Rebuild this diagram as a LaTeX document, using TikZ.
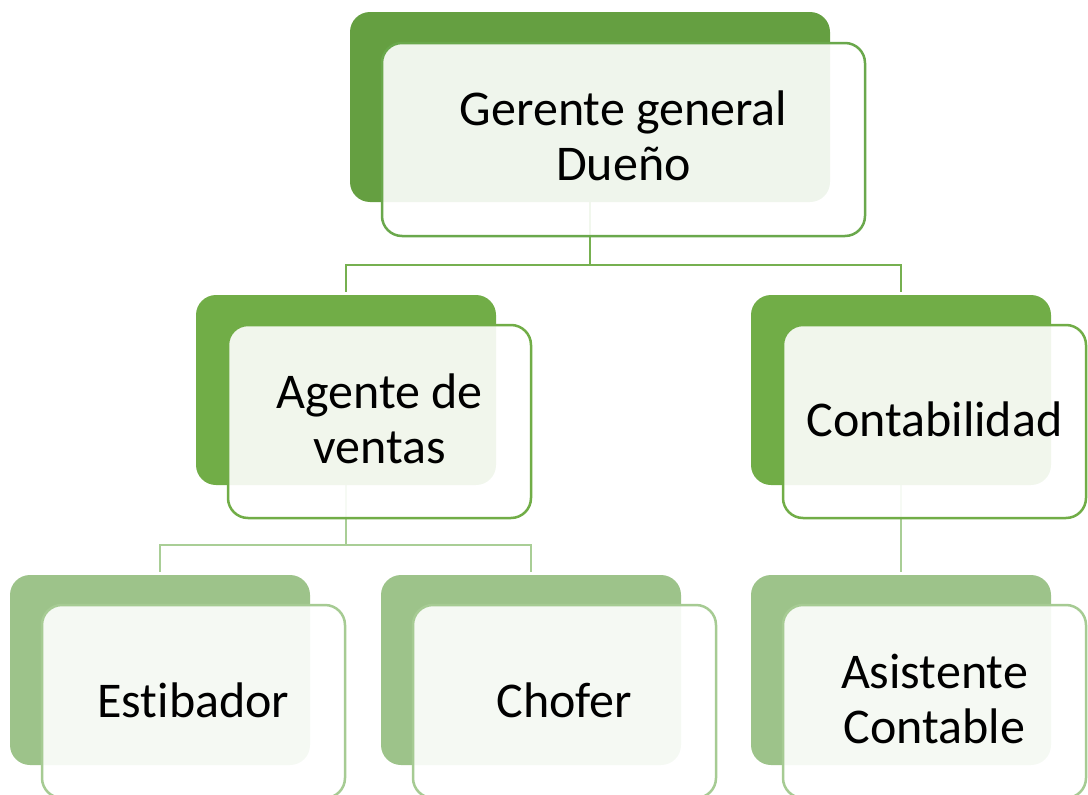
\documentclass[tikz,border=0pt]{standalone}
\usepackage{fontspec}
\setmainfont{Carlito}[Ligatures=NoCommon]
\usetikzlibrary{backgrounds}
\definecolor{gA}{HTML}{659F41}
\definecolor{gAline}{HTML}{6AA84C}
\definecolor{gB}{HTML}{71AD47}
\definecolor{gBline}{HTML}{71AD47}
\definecolor{gC}{HTML}{9DC38A}
\definecolor{gCline}{HTML}{A6CB93}
\definecolor{cA}{HTML}{76B050}
\definecolor{cB}{HTML}{A9CE96}
\tikzset{
  backbox/.style={rectangle, rounded corners=20pt, inner sep=0pt, outer sep=0pt, minimum height=190pt},
  frontbox/.style={rectangle, rounded corners=20pt, inner sep=0pt, outer sep=0pt, minimum height=193pt, line width=2.5pt, fill=white, fill opacity=0.9, draw opacity=1},
  lbl/.style={align=center, font=\fontsize{50}{55}\selectfont, text=black, inner sep=0pt},
  connA/.style={draw=cA, line width=2.5pt},
  connB/.style={draw=cB, line width=2.5pt},
}
\begin{document}
\begin{tikzpicture}[x=1pt,y=-1pt]
\useasboundingbox (0,0) rectangle (1088,795);
\clip (0,0) rectangle (1088,795);
% back boxes
\node[backbox, fill=gA, minimum width=480pt] (gb) at (590,107) {};
\node[backbox, fill=gB, minimum width=300pt] (ab) at (346,390) {};
\node[backbox, fill=gB, minimum width=300pt] (cb) at (901,390) {};
\node[backbox, fill=gC, minimum width=300pt] (eb) at (160,670) {};
\node[backbox, fill=gC, minimum width=300pt] (hb) at (531,670) {};
\node[backbox, fill=gC, minimum width=300pt] (sb) at (901,670) {};
% connectors
\coordinate (bus1) at (590,265);
\coordinate (bus2) at (346,545);
\begin{scope}[on background layer]
\draw[connA] (gb.south) -- (bus1) -| ([yshift=3pt]ab.north);
\draw[connA] (bus1) -| ([yshift=3pt]cb.north);
\draw[connB] (ab.south) -- (bus2) -| ([yshift=3pt]eb.north);
\draw[connB] (bus2) -| ([yshift=3pt]hb.north);
\draw[connB] (cb.south) -- ([yshift=3pt]sb.north);
\end{scope}
% front boxes
\node[frontbox, draw=gAline, minimum width=483pt] (gf) at (623.5,139.5) {};
\node[frontbox, draw=gBline, minimum width=303pt] (af) at (379.5,421.5) {};
\node[frontbox, draw=gBline, minimum width=303pt] (cf) at (934.5,421.5) {};
\node[frontbox, draw=gCline, minimum width=303pt] (ef) at (193.5,701.5) {};
\node[frontbox, draw=gCline, minimum width=303pt] (hf) at (564.5,701.5) {};
\node[frontbox, draw=gCline, minimum width=303pt] (sf) at (934.5,701.5) {};
% labels
\node[lbl] (gt) at ([yshift=4pt]gf.center) {Gerente general\\Dueño};
\node[lbl] (at) at ([yshift=3pt]af.center) {Agente de\\ventas};
\node[lbl] (ct) at ([yshift=2.5pt]cf.center) {Contabilidad};
\node[lbl] (et) at ([yshift=1pt]ef.center) {Estibador};
\node[lbl] (ht) at ([yshift=1pt]hf.center) {Chofer};
\node[lbl] (st) at ([yshift=3pt]sf.center) {Asistente\\Contable};
\end{tikzpicture}
\end{document}
